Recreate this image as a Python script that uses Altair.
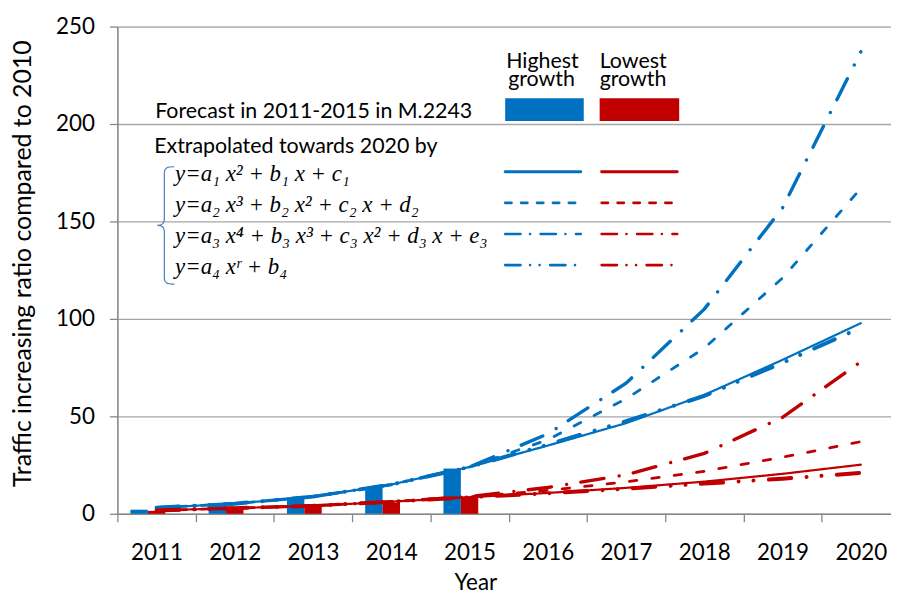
import altair as alt
import pandas as pd

# ---------------- data ----------------
years = ["2011", "2012", "2013", "2014", "2015", "2016", "2017", "2018", "2019", "2020"]
bar_years = ["2011", "2012", "2013", "2014", "2015"]
bar_highest = [2.1, 4.6, 8.5, 13.6, 23.2]
bar_lowest = [1.5, 3.0, 4.6, 5.7, 8.8]

high_quad = [3.1, 5.2, 8.8, 15.0, 24.0, 35.0, 46.5, 61.0, 79.0, 97.8]
high_cubic = [3.1, 5.2, 8.8, 15.0, 24.0, 38.0, 59.0, 85.0, 121.0, 167.0]
high_quart = [3.1, 5.2, 8.8, 15.0, 24.0, 41.0, 67.0, 105.0, 157.0, 237.0]
high_power = [3.1, 5.2, 8.8, 15.0, 24.0, 35.5, 47.5, 60.5, 77.5, 95.5]
low_quad = [1.7, 2.9, 4.1, 6.2, 8.5, 10.7, 13.3, 16.5, 20.5, 25.2]
low_cubic = [1.7, 2.9, 4.1, 6.2, 8.7, 12.0, 16.4, 21.8, 29.0, 37.0]
low_quart = [1.7, 2.9, 4.1, 6.2, 8.8, 13.5, 20.0, 31.0, 49.5, 78.0]
low_power = [1.7, 2.9, 4.1, 6.2, 8.5, 10.5, 12.8, 15.5, 18.0, 21.0]

groups = ["Highest", "Lowest"]
methods = ["quad", "cubic", "quart", "power"]
header_top = ["Highest", "Lowest"]
header_bottom = ["growth", "growth"]
forecast_label = "Forecast in 2011-2015 in M.2243"
extrap_label = "Extrapolated towards 2020 by"
equations = [
    "y=a\u2081 x\u00b2 + b\u2081 x + c\u2081",
    "y=a\u2082 x\u00b3 + b\u2082 x\u00b2 + c\u2082 x + d\u2082",
    "y=a\u2083 x\u2074 + b\u2083 x\u00b3 + c\u2083 x\u00b2 + d\u2083 x + e\u2083",
    "y=a\u2084 x\u02b3 + b\u2084",
]
y_ticks = [0, 50, 100, 150, 200, 250]

# ---------------- styling / layout ----------------
BLUE = "#0070C0"
RED = "#C00000"
FONT = "Lato"
FS = 21.5
LFS = 22.5
W, H = 778, 490
STEP = 78.7

series = {
    ("Highest", "quad"): high_quad, ("Highest", "cubic"): high_cubic,
    ("Highest", "quart"): high_quart, ("Highest", "power"): high_power,
    ("Lowest", "quad"): low_quad, ("Lowest", "cubic"): low_cubic,
    ("Lowest", "quart"): low_quart, ("Lowest", "power"): low_power,
}
rows = []
for (g, m), vals in series.items():
    for yr, v in zip(years, vals):
        rows.append({"year": yr, "group": g, "method": m, "series": g + m, "value": v})
df_lines = pd.DataFrame(rows)

bar_rows = []
for yr, h, l in zip(bar_years, bar_highest, bar_lowest):
    bar_rows.append({"year": yr, "group": "Highest", "value": h})
    bar_rows.append({"year": yr, "group": "Lowest", "value": l})
df_bars = pd.DataFrame(bar_rows)

x_scale = alt.Scale(domain=years, range=[0, STEP * 10], paddingInner=0, paddingOuter=0)
y_scale = alt.Scale(domain=[0, 250], nice=False)
color_scale = alt.Scale(domain=groups, range=[BLUE, RED])
offset_scale = alt.Scale(domain=groups + ["_"], paddingInner=0, paddingOuter=0.75)

plot_dash = [[1, 0], [7.5, 15.2], [23.5, 15.5, 0.01, 14.5], [22.5, 15.5, 0.01, 15, 0.01, 15.5]]
plot_width = [2.2, 4, 4, 4]
legend_dash = [[1, 0], [6.4, 9.6], [15.4, 9.6, 0.01, 10.6], [15.4, 9.6, 0.01, 9.6, 0.01, 10.6]]
legend_width = [3, 2.6, 2.6, 2.6]

x_axis = alt.Axis(
    tickBand="extent", labelAngle=0, grid=False,
    domainColor="#868686", domainWidth=1.5, tickColor="#868686", tickWidth=1.3, tickSize=8,
    labelFont=FONT, labelFontSize=LFS, labelColor="black", labelPadding=20,
    title="Year", titleFont=FONT, titleFontSize=LFS, titleFontWeight="normal", titleColor="black",
    titleX=360, titleY=76, titleBaseline="alphabetic",
)
y_axis = alt.Axis(
    values=y_ticks, grid=True, gridColor="#a6a6a6", gridWidth=1.3,
    domainColor="#868686", domainWidth=1.5, tickColor="#868686", tickWidth=1.3, tickSize=8,
    labelFont=FONT, labelFontSize=LFS, labelColor="black", labelPadding=15,
    title="Traffic increasing ratio compared to 2010", titleFont=FONT, titleFontSize=25,
    titleFontWeight="normal", titleColor="black", titleX=-95, titleY=238,
    titleAngle=270, titleAlign="center", titleBaseline="middle",
)

bars = alt.Chart(df_bars).mark_bar().encode(
    x=alt.X("year:N", scale=x_scale, axis=x_axis, sort=years),
    xOffset=alt.XOffset("group:N", scale=offset_scale),
    y=alt.Y("value:Q", scale=y_scale, axis=y_axis),
    color=alt.Color("group:N", scale=color_scale, legend=None),
)

lines = alt.Chart(df_lines).mark_line(strokeCap="round").encode(
    x=alt.X("year:N", scale=x_scale, axis=x_axis, sort=years),
    y=alt.Y("value:Q", scale=y_scale, axis=y_axis),
    color=alt.Color("group:N", scale=color_scale, legend=None),
    strokeDash=alt.StrokeDash("method:N", scale=alt.Scale(domain=methods, range=plot_dash), legend=None),
    strokeWidth=alt.StrokeWidth("method:N", scale=alt.Scale(domain=methods, range=plot_width), legend=None),
    detail="series:N",
)

# ---------------- custom legend block (plot-pixel layout) ----------------
one = pd.DataFrame({"k": [0]})
layers = [bars, lines]

def text_layer(txt, x, y, font=FONT, size=FS, style="normal"):
    d = pd.DataFrame({"t": [txt]})
    return alt.Chart(d).mark_text(
        align="left", baseline="alphabetic", font=font, fontSize=size, fontStyle=style, color="black"
    ).encode(x=alt.value(x), y=alt.value(y), text="t:N")

col_x = [(390, 466), (487, 563)]
rect_x = [(390, 469), (485, 565)]
head_x = [391, 485]
for i, g in enumerate(groups):
    layers.append(text_layer(header_top[i], head_x[i], 42))
    layers.append(text_layer(header_bottom[i], head_x[i] + (2 if i == 0 else 0), 60))
    layers.append(alt.Chart(one).mark_rect(color=[BLUE, RED][i]).encode(
        x=alt.value(rect_x[i][0]), x2=alt.value(rect_x[i][1]), y=alt.value(72), y2=alt.value(95)))

layers.append(text_layer(forecast_label, 38, 92))
layers.append(text_layer(extrap_label, 37, 127))

row_y0, row_dy = 146, 31.3
for j, eq in enumerate(equations):
    ly = row_y0 + j * row_dy
    layers.append(text_layer(eq, 58, ly + 9, font="Liberation Serif", size=23, style="italic"))
    for i, g in enumerate(groups):
        layers.append(alt.Chart(one).mark_rule(
            color=[BLUE, RED][i], strokeDash=legend_dash[j], strokeWidth=legend_width[j], strokeCap="round"
        ).encode(x=alt.value(col_x[i][0]), x2=alt.value(col_x[i][1]), y=alt.value(ly)))

brace_path = ("M 0.14 -1 C 0.0 -1 -0.03 -0.97 -0.03 -0.9 L -0.03 -0.1 C -0.03 -0.03 -0.07 0 -0.15 0 "
              "C -0.07 0 -0.03 0.03 -0.03 0.1 L -0.03 0.9 C -0.03 0.97 0.0 1 0.14 1")
layers.append(alt.Chart(one).mark_point(
    shape=brace_path, filled=False, stroke="#4a7ebb", strokeWidth=1.2, size=118 * 118, opacity=1
).encode(x=alt.value(49), y=alt.value(200)))

chart = alt.layer(*layers).properties(
    width=W, height=H,
    autosize=alt.AutoSizeParams(type="none"),
    padding={"left": 110, "top": 17, "right": 0, "bottom": 77},
).configure_view(stroke=None).configure(background="white")

chart.save("out.html", embed_options={"renderer": "svg", "actions": False})
